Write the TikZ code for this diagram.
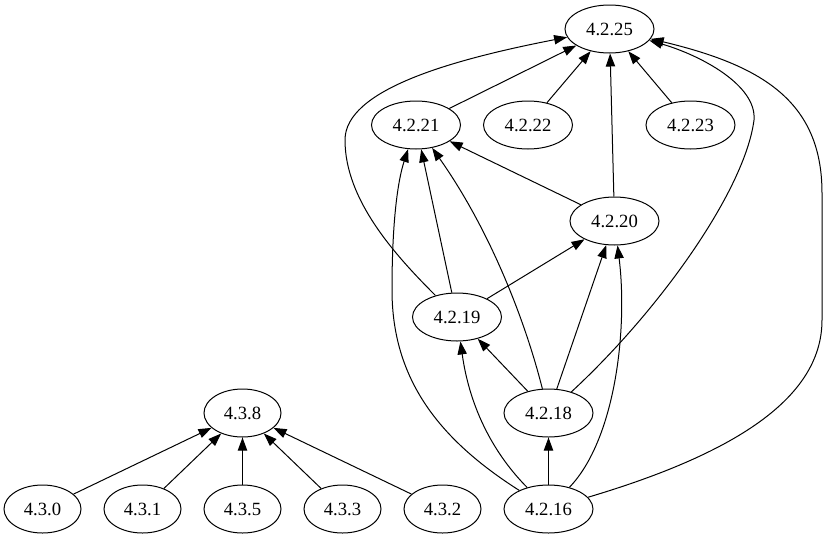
\documentclass[tikz,border=0pt]{standalone}
\usepackage{fontspec}
\setmainfont{Liberation Serif}
\usetikzlibrary{shapes.geometric,arrows.meta}
\tikzset{
  gnode/.style={draw, ellipse, line width=1pt, inner sep=0pt, minimum width=89pt, minimum height=48pt, font=\fontsize{18.67}{20}\selectfont},
  snode/.style={gnode, minimum width=77pt},
  edge/.style={draw, line width=1pt, -{Triangle[length=13pt,width=9.3pt]}}
}
\begin{document}
\begin{tikzpicture}[x=1pt,y=-1pt]
\useasboundingbox (0,0) rectangle (828,539);
\node[gnode] (n25) at (609.5,29) {4.2.25};
\node[gnode] (n21) at (416,125) {4.2.21};
\node[gnode] (n22) at (528,125) {4.2.22};
\node[gnode] (n23) at (690.5,125) {4.2.23};
\node[gnode] (n20) at (614.5,221) {4.2.20};
\node[gnode] (n19) at (457,317) {4.2.19};
\node[gnode] (n18) at (548.5,413) {4.2.18};
\node[gnode] (n16) at (548.5,509) {4.2.16};
\node[snode] (n38) at (242.5,413) {4.3.8};
\node[snode] (n30) at (42.5,509) {4.3.0};
\node[snode] (n31) at (142.5,509) {4.3.1};
\node[snode] (n35) at (242.5,509) {4.3.5};
\node[snode] (n33) at (342.5,509) {4.3.3};
\node[snode] (n32) at (442.5,509) {4.3.2};

% straight edges
\path[edge] (n21) -- (n25);
\path[edge] (n22) -- (n25);
\path[edge] (n23) -- (n25);
\path[edge] (n20) -- (n25);
\path[edge] (n20) -- (n21);
\path[edge] (n19) -- (n21);
\path[edge] (n19) -- (n20);
\path[edge] (n18) -- (n19);
\path[edge] (n18) -- (n20);
\path[edge] (n16) -- (n18);
\path[edge] (n30) -- (n38);
\path[edge] (n31) -- (n38);
\path[edge] (n35) -- (n38);
\path[edge] (n33) -- (n38);
\path[edge] (n32) -- (n38);

% curved edges
\path[edge] (n19) .. controls (395,255) and (345,200) .. (345,140)
   .. controls (345,90) and (450,60) .. (n25);
\path[edge] (n18) .. controls (660,310) and (745,190) .. (754,120)
   .. controls (757,85) and (700,55) .. (n25);
\path[edge] (n16) .. controls (730,455) and (822,400) .. (822,320)
   -- (822,193) .. controls (822,100) and (760,65) .. (n25);
\path[edge] (n18) .. controls (525,320) and (490,230) .. (n21);
\path[edge] (n16) .. controls (440,440) and (392,380) .. (392,290)
   .. controls (392,220) and (398,180) .. (n21);
\path[edge] (n16) .. controls (495,455) and (470,410) .. (n19);
\path[edge] (n16) .. controls (615,440) and (628,330) .. (n20);
\end{tikzpicture}
\end{document}
